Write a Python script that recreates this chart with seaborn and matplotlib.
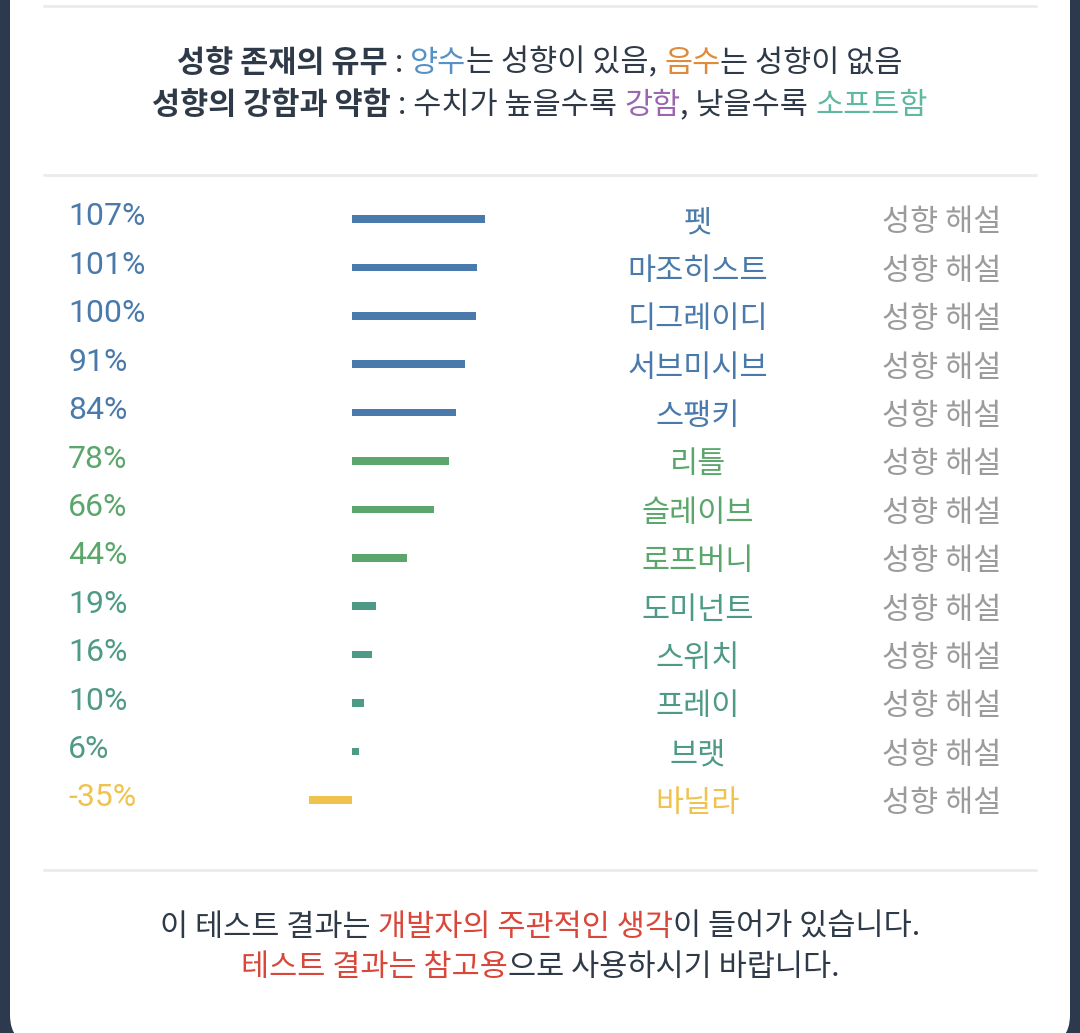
import numpy as np
import pandas as pd
import matplotlib
matplotlib.use('agg')
import matplotlib.pyplot as plt
import matplotlib.transforms as mtransforms
from matplotlib.patches import FancyBboxPatch
from matplotlib.lines import Line2D
import seaborn as sns

# data
names = ['펫', '마조히스트', '디그레이디', '서브미시브', '스팽키', '리틀', '슬레이브',
         '로프버니', '도미넌트', '스위치', '프레이', '브랫', '바닐라']
values = [107, 101, 100, 91, 84, 78, 66, 44, 19, 16, 10, 6, -35]
groups = ['high'] * 5 + ['mid'] * 3 + ['low'] * 4 + ['neg']
link_label = '성향 해설'

header1 = [('성향 존재의 유무', 'dark', 'bold'), (' : ', 'dark', 'normal'),
           ('양수', 'blue', 'normal'), ('는 성향이 있음, ', 'dark', 'normal'),
           ('음수', 'orange', 'normal'), ('는 성향이 없음', 'dark', 'normal')]
header2 = [('성향의 강함과 약함', 'dark', 'bold'), (' : 수치가 높을수록 ', 'dark', 'normal'),
           ('강함', 'purple', 'normal'), (', 낮을수록 ', 'dark', 'normal'),
           ('소프트함', 'mint', 'normal')]
footer1 = [('이 테스트 결과는 ', 'dark', 'normal'), ('개발자의 주관적인 생각', 'red', 'normal'),
           ('이 들어가 있습니다.', 'dark', 'normal')]
footer2 = [('테스트 결과는 참고용', 'red', 'normal'), ('으로 사용하시기 바랍니다.', 'dark', 'normal')]

palette = {'high': '#4a7aab', 'mid': '#5aa66b', 'low': '#4e9a86', 'neg': '#f0c24e'}
text_colors = {'dark': '#2f3a48', 'blue': '#5792c6', 'orange': '#e08a3c',
               'purple': '#9a66b0', 'mint': '#5fb9a0', 'red': '#d9473a'}

W, H = 1080, 1033
sns.set_theme(style='white')
plt.rcParams['font.family'] = ['Noto Sans CJK KR', 'DejaVu Sans']

fig = plt.figure(figsize=(W / 100, H / 100), dpi=100)
fig.patch.set_facecolor('#2d3a4e')

card = FancyBboxPatch((0.10, -0.12), 10.60, 11.0,
                      boxstyle='round,pad=0,rounding_size=0.3',
                      transform=fig.dpi_scale_trans, facecolor='white',
                      edgecolor='none', zorder=0)
fig.add_artist(card)

for ypx in [6, 175, 870]:
    fig.add_artist(Line2D([44 / W, 1036 / W], [1 - ypx / H, 1 - ypx / H],
                          color='#ececec', lw=2.2, transform=fig.transFigure))

# bars
zero_px = 352
px_per_pct = 1.24
row_top, row_step = 219, 48.4
ax_top = row_top - row_step / 2
ax_bot = row_top + row_step * (len(names) - 0.5)
ax = fig.add_axes([0, 1 - ax_bot / H, 1, (ax_bot - ax_top) / H])
df = pd.DataFrame({'name': names, 'value': values, 'group': groups})
sns.barplot(data=df, x='value', y='name', hue='group', palette=palette,
            orient='h', dodge=False, width=0.16, saturation=1, legend=False,
            linewidth=0, ax=ax)
ax.set_xlim(-zero_px / px_per_pct, (W - zero_px) / px_per_pct)
ax.set_ylim(len(names) - 0.5, -0.5)
ax.axis('off')

trans = mtransforms.blended_transform_factory(fig.transFigure, ax.transData)
for i, (n, v, g) in enumerate(zip(names, values, groups)):
    c = palette[g]
    ax.text(68 / W, i - 2 / row_step, f'{v}%', transform=trans, ha='left', va='center',
            fontsize=23, color=c, family=['Roboto', 'DejaVu Sans'])
    ax.text(698 / W, i + 4 / row_step, n, transform=trans, ha='center', va='center',
            fontsize=22, color=c)
    ax.text(942 / W, i + 4 / row_step, link_label, transform=trans, ha='center',
            va='center', fontsize=22, color='#9b9b9b')

renderer = fig.canvas.get_renderer()


def text_width(s, size, weight):
    t = fig.text(0, 0, 'x' + s + 'x', fontsize=size, fontweight=weight)
    t2 = fig.text(0, 0, 'xx', fontsize=size, fontweight=weight)
    w = t.get_window_extent(renderer).width - t2.get_window_extent(renderer).width
    t.remove()
    t2.remove()
    return w


def rich_line(parts, ypx, size):
    widths = [text_width(s, size, wt) for s, _, wt in parts]
    x = (W - sum(widths)) / 2
    for (s, c, wt), w in zip(parts, widths):
        fig.text(x / W, 1 - ypx / H, s, fontsize=size, fontweight=wt,
                 color=text_colors[c], ha='left', va='center')
        x += w


rich_line(header1, 63, 22)
rich_line(header2, 105, 22)
rich_line(footer1, 927, 22)
rich_line(footer2, 968, 22)

fig.savefig('out.png', dpi=100, facecolor=fig.get_facecolor())
